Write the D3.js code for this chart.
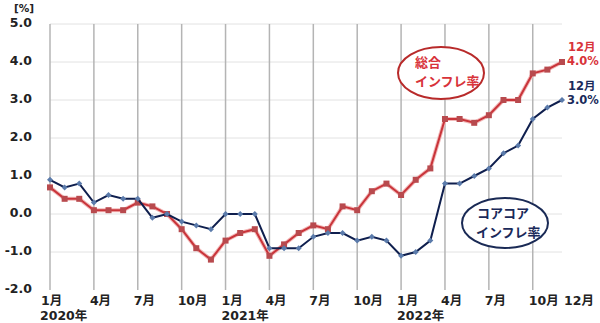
<!DOCTYPE html>
<html>
<head>
<meta charset="utf-8">
<script src="https://cdn.jsdelivr.net/npm/d3@7"></script>
<style>
body { margin: 0; background: #fff; }
text { font-family: "DejaVu Sans", "Noto Sans CJK JP", sans-serif; font-weight: bold; }
</style>
</head>
<body>
<script>
const width = 600
const height = 323

// monthly data, Jan 2020 .. Dec 2022
const months = d3.range(36)
const headline = [0.7, 0.4, 0.4, 0.1, 0.1, 0.1, 0.3, 0.2, 0.0, -0.4, -0.9, -1.2,
                  -0.7, -0.5, -0.4, -1.1, -0.8, -0.5, -0.3, -0.4, 0.2, 0.1, 0.6, 0.8,
                  0.5, 0.9, 1.2, 2.5, 2.5, 2.4, 2.6, 3.0, 3.0, 3.7, 3.8, 4.0]
const coreCore = [0.9, 0.7, 0.8, 0.3, 0.5, 0.4, 0.4, -0.1, 0.0, -0.2, -0.3, -0.4,
                  0.0, 0.0, 0.0, -0.9, -0.9, -0.9, -0.6, -0.5, -0.5, -0.7, -0.6, -0.7,
                  -1.1, -1.0, -0.7, 0.8, 0.8, 1.0, 1.2, 1.6, 1.8, 2.5, 2.8, 3.0]
const yTicks = [-2, -1, 0, 1, 2, 3, 4, 5]
const monthLabels = [[0, "1月"], [3, "4月"], [6, "7月"], [9, "10月"],
                     [12, "1月"], [15, "4月"], [18, "7月"], [21, "10月"],
                     [24, "1月"], [27, "4月"], [30, "7月"], [33, "10月"], [35, "12月"]]
const yearLabels = [[0, "2020年"], [12, "2021年"], [24, "2022年"]]
const gridMonths = d3.range(0, 36, 3)

const red = "#c9343a"
const navy = "#0f1f4e"

const svg = d3.select("body").append("svg")
    .attr("width", width)
    .attr("height", height)

const x = d3.scalePoint().domain(months).range([50, 562]).padding(0)
const y = d3.scaleLinear().domain([-2, 5]).range([290, 24])

// horizontal grid
svg.selectAll(".hgrid")
    .data(yTicks.filter(t => t > -2))
    .enter().append("line")
    .attr("x1", 50).attr("x2", 562)
    .attr("y1", d => y(d)).attr("y2", d => y(d))
    .attr("stroke", "#e2e2e2").attr("stroke-width", 1)

// vertical grid
svg.selectAll(".vgrid")
    .data(gridMonths)
    .enter().append("line")
    .attr("x1", d => x(d)).attr("x2", d => x(d))
    .attr("y1", y(5)).attr("y2", y(-2))
    .attr("stroke", "#b4b4b4").attr("stroke-width", 1.5)

// y labels
svg.selectAll(".ylab")
    .data(yTicks)
    .enter().append("text")
    .attr("x", 32).attr("y", d => y(d) - 1)
    .attr("text-anchor", "end")
    .attr("dominant-baseline", "middle")
    .attr("font-size", 12.5)
    .attr("fill", "#222")
    .text(d => d.toFixed(1))
svg.append("text")
    .attr("x", 24).attr("y", 9)
    .attr("text-anchor", "middle").attr("dominant-baseline", "middle")
    .attr("font-size", 10.5).attr("fill", "#222")
    .text("[%]")

// x labels
svg.selectAll(".mlab")
    .data(monthLabels)
    .enter().append("text")
    .attr("x", d => x(d[0]) - 4 + (d[0] === 35 ? 6 : 0) - (d[0] === 0 ? 5 : 0))
    .attr("y", 305)
    .attr("font-size", 12.5)
    .attr("fill", "#222")
    .text(d => d[1])
svg.selectAll(".ylab2")
    .data(yearLabels)
    .enter().append("text")
    .attr("x", d => x(d[0]) - (d[0] === 0 ? 10 : 4))
    .attr("y", 320)
    .attr("font-size", 12.5)
    .attr("fill", "#222")
    .text(d => d[1])

const line = d3.line().x((d, i) => x(i)).y(d => y(d))

// headline (red)
svg.append("path")
    .attr("d", line(headline))
    .attr("fill", "none").attr("stroke", "#f2b8b8").attr("stroke-width", 4)
svg.append("path")
    .attr("d", line(headline))
    .attr("fill", "none").attr("stroke", red).attr("stroke-width", 2)
svg.selectAll(".rpt")
    .data(headline)
    .enter().append("rect")
    .attr("x", (d, i) => x(i) - 3).attr("y", d => y(d) - 3)
    .attr("width", 6).attr("height", 6)
    .attr("fill", "#b84a4e")

// core-core (navy)
svg.append("path")
    .attr("d", line(coreCore))
    .attr("fill", "none").attr("stroke", navy).attr("stroke-width", 2)
svg.selectAll(".bpt")
    .data(coreCore)
    .enter().append("path")
    .attr("d", (d, i) => `M${x(i)},${y(d) - 3}L${x(i) + 3},${y(d)}L${x(i)},${y(d) + 3}L${x(i) - 3},${y(d)}Z`)
    .attr("fill", "#5b7bab")

// callouts
svg.append("ellipse")
    .attr("cx", 441).attr("cy", 73).attr("rx", 43).attr("ry", 26)
    .attr("fill", "#fff").attr("stroke", "#b82a2a").attr("stroke-width", 2)
svg.append("text").attr("x", 415).attr("y", 63)
    .attr("dominant-baseline", "middle").attr("font-size", 13).attr("font-weight", "normal")
    .attr("fill", "#d8333a").text("総合")
svg.append("text").attr("x", 415).attr("y", 82)
    .attr("dominant-baseline", "middle").attr("font-size", 13).attr("font-weight", "normal")
    .attr("fill", "#d8333a").text("インフレ率")

svg.append("ellipse")
    .attr("cx", 505).attr("cy", 223).attr("rx", 43).attr("ry", 25)
    .attr("fill", "#fff").attr("stroke", "#1a2a55").attr("stroke-width", 2)
svg.append("text").attr("x", 477).attr("y", 214)
    .attr("dominant-baseline", "middle").attr("font-size", 13).attr("font-weight", "normal")
    .attr("fill", "#1a2a5a").text("コアコア")
svg.append("text").attr("x", 476).attr("y", 233)
    .attr("dominant-baseline", "middle").attr("font-size", 13).attr("font-weight", "normal")
    .attr("fill", "#1a2a5a").text("インフレ率")

// end labels
svg.append("text").attr("x", 568).attr("y", 47)
    .attr("dominant-baseline", "middle").attr("font-size", 11.5).attr("fill", "#d8333a").text("12月")
svg.append("text").attr("x", 567).attr("y", 61)
    .attr("dominant-baseline", "middle").attr("font-size", 11.5).attr("fill", "#d8333a").text(headline[35].toFixed(1) + "%")
svg.append("text").attr("x", 568).attr("y", 86)
    .attr("dominant-baseline", "middle").attr("font-size", 11.5).attr("fill", "#1a2a5a").text("12月")
svg.append("text").attr("x", 567).attr("y", 100)
    .attr("dominant-baseline", "middle").attr("font-size", 11.5).attr("fill", "#1a2a5a").text(coreCore[35].toFixed(1) + "%")
</script>
</body>
</html>
